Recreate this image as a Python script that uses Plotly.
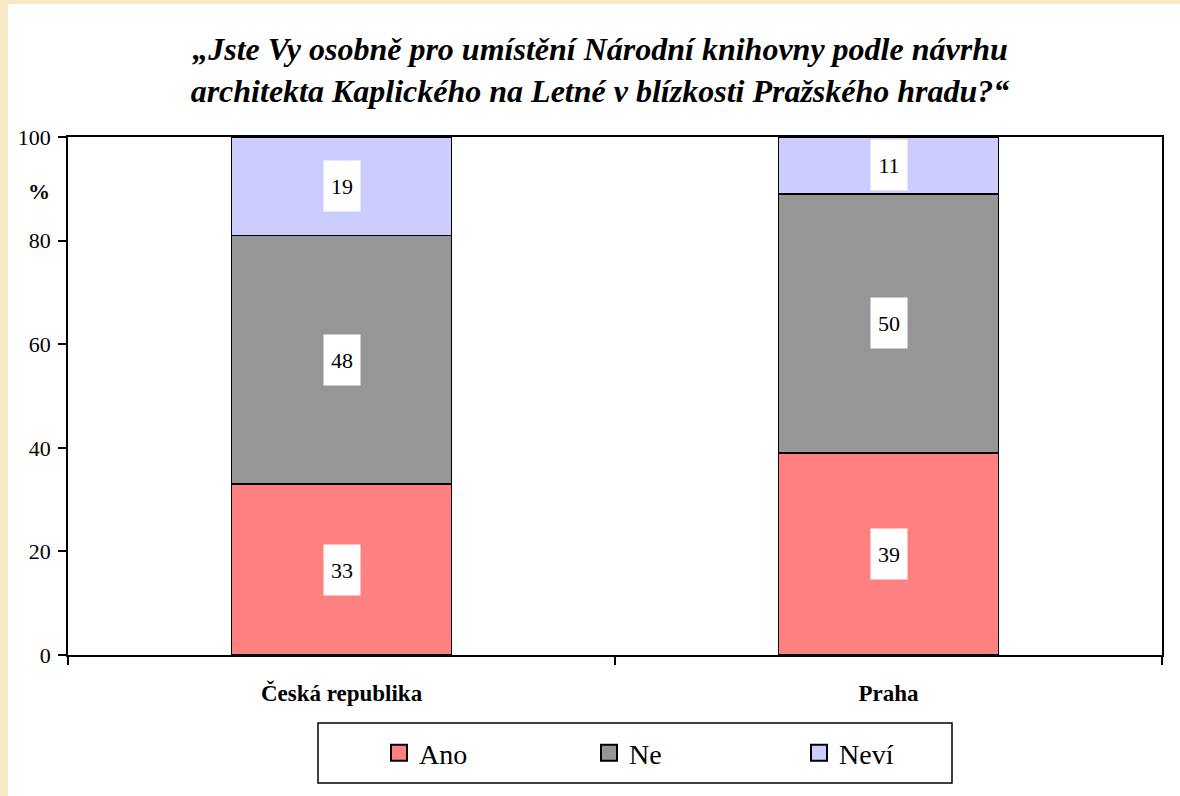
import plotly.graph_objects as go

categories = ["Česká republika", "Praha"]
series_names = ["Ano", "Ne", "Neví"]
ano = [33, 39]
ne = [48, 50]
nevi = [19, 11]
colors = ["#FF8080", "#969696", "#CCCCFF"]
y_ticks = [0, 20, 40, 60, 80, 100]
title_text = "<b><i>„Jste Vy osobně pro umístění Národní knihovny podle návrhu<br>architekta Kaplického na Letné v blízkosti Pražského hradu?“</i></b>"

FONT = "Times New Roman, Liberation Serif, Tinos, serif"
W, H = 1180, 796
L, R, T, B = 68, 18, 137, 141
pw, ph = W - L - R, H - T - B


def px_x(px):
    return (px - L) / pw


def px_y(py):
    return (H - B - py) / ph


fig = go.Figure()
values = [ano, ne, nevi]
for name, vals, col in zip(series_names, values, colors):
    fig.add_trace(go.Bar(
        x=categories, y=vals, name=name, showlegend=False,
        marker=dict(color=col, line=dict(color="black", width=1.4)),
    ))
# legend entries with larger square symbols
for name, col in zip(series_names, colors):
    fig.add_trace(go.Scatter(
        x=[None], y=[None], name=name, mode="markers",
        marker=dict(symbol="square", size=16, color=col,
                    line=dict(color="black", width=2)),
    ))

annotations = []
for ci, cat in enumerate(categories):
    base = 0
    for vals in values:
        v = vals[ci]
        annotations.append(dict(
            x=cat, y=base + v / 2, xref="x", yref="y", text=str(v),
            showarrow=False, bgcolor="white", width=34, height=48,
            xanchor="center", yanchor="middle",
            font=dict(family=FONT, size=22, color="black"),
        ))
        base += v

annotations.append(dict(
    x=px_x(39), y=px_y(191), xref="paper", yref="paper",
    text="<b>%</b>", showarrow=False, xanchor="center", yanchor="middle",
    font=dict(family=FONT, size=22, color="black"),
))

fig.update_layout(
    width=W, height=H,
    margin=dict(l=L, r=R, t=T, b=B, autoexpand=False),
    paper_bgcolor="#F9E8C6",
    plot_bgcolor="white",
    barmode="stack",
    bargap=0.598,
    title=dict(
        text=title_text, x=600 / W, xanchor="center", xref="container",
        y=1 - 60 / H, yanchor="top", yref="container",
        font=dict(family=FONT, size=32, color="black"),
    ),
    font=dict(family=FONT, color="black"),
    showlegend=True,
    legend=dict(
        orientation="h", x=px_x(379), xanchor="left",
        y=px_y(753), yanchor="middle",
        bgcolor="rgba(0,0,0,0)", borderwidth=0,
        font=dict(family=FONT, size=28, color="black"),
        entrywidth=165, traceorder="normal", itemsizing="trace",
    ),
    annotations=annotations,
    shapes=[
        dict(
            type="rect", xref="paper", yref="paper", layer="below",
            x0=px_x(8), x1=px_x(W) + 0.01,
            y0=px_y(H + 5), y1=px_y(4),
            fillcolor="white", line=dict(width=0),
        ),
        dict(
            type="rect", xref="paper", yref="paper", layer="above",
            x0=px_x(318), x1=px_x(952),
            y0=px_y(783), y1=px_y(723),
            fillcolor="rgba(0,0,0,0)", line=dict(color="black", width=1.5),
        ),
    ],
)

fig.update_yaxes(
    range=[0, 100], tickvals=y_ticks, ticks="outside", ticklen=8,
    tickcolor="black", tickwidth=1.5,
    showline=True, linecolor="black", linewidth=1.5, mirror=True,
    showgrid=False, zeroline=False, ticklabelstandoff=3,
    tickfont=dict(family=FONT, size=22, color="black"),
)
fig.update_xaxes(
    tickson="boundaries", ticks="outside", ticklen=8,
    tickcolor="black", tickwidth=1.5,
    showline=True, linecolor="black", linewidth=1.5, mirror=True,
    showgrid=False, ticklabelstandoff=17,
    tickfont=dict(family=FONT, size=23, color="black"),
    tickvals=categories, ticktext=["<b>" + c + "</b>" for c in categories],
)

fig.write_html(
    "out.html",
    config={"displayModeBar": False},
    post_script="document.body.style.margin='0';document.body.style.padding='0';",
)
